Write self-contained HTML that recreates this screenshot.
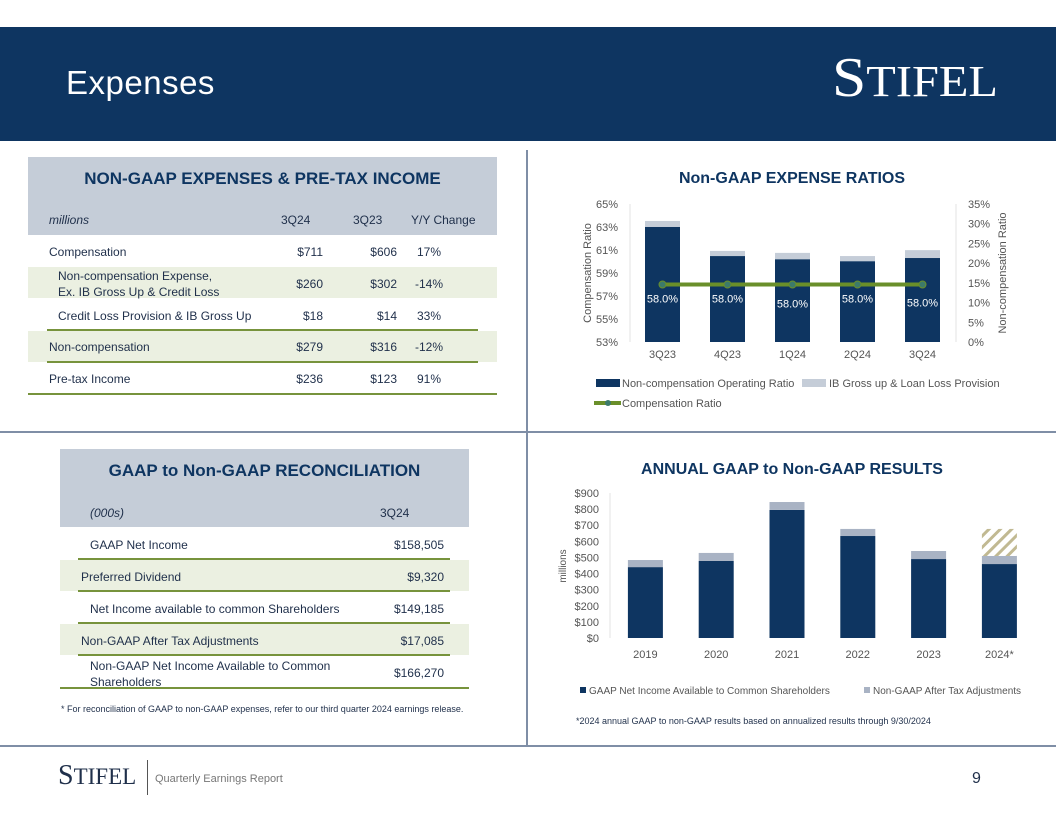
<!DOCTYPE html>
<html><head><meta charset="utf-8"><style>
*{margin:0;padding:0;box-sizing:border-box}
body{width:1056px;height:816px;position:relative;background:#fff;font-family:"Liberation Sans",sans-serif;overflow:hidden;color:#1f2f4a}
.abs{position:absolute}
.t{position:absolute;font-size:12px;color:#1f2f4a;white-space:nowrap}
.r{text-align:right}
</style></head><body>
<div class="abs" style="left:0;top:27px;width:1056px;height:114px;background:#0e3561"></div>
<div class="abs" style="left:66px;top:64px;font-size:33px;color:#fff;letter-spacing:0.5px">Expenses</div>
<div class="abs" style="left:832px;top:46px;font-family:'Liberation Serif',serif;font-size:56px;color:#fff;transform:scaleX(1.1);transform-origin:left top">S<span style="font-size:44px">TIFEL</span></div>

<div class="abs" style="left:526px;top:150px;width:2px;height:596px;background:#7f8ea6"></div>
<div class="abs" style="left:0;top:431px;width:1056px;height:2px;background:#7f8ea6"></div>
<div class="abs" style="left:0;top:745px;width:1056px;height:2px;background:#7f8ea6"></div>

<!-- Table 1 -->
<div>
<div class="abs" style="left:28px;top:157px;width:469px;height:78px;background:#c5cdd8"></div>
<div class="t" style="left:28px;width:469px;top:169px;text-align:center;font-size:17px;font-weight:bold;color:#0e3561">NON-GAAP EXPENSES &amp; PRE-TAX INCOME</div>
<div class="t" style="left:49px;top:213px;font-style:italic">millions</div>
<div class="t" style="left:281px;top:213px">3Q24</div>
<div class="t" style="left:353px;top:213px">3Q23</div>
<div class="t" style="left:411px;top:213px">Y/Y Change</div>
<div class="abs" style="left:28px;top:267px;width:469px;height:31px;background:#ebf0e1"></div>
<div class="abs" style="left:28px;top:331px;width:469px;height:31px;background:#ebf0e1"></div>
<div class="abs" style="left:47px;top:329px;width:431px;height:2px;background:#77933c"></div>
<div class="abs" style="left:47px;top:361px;width:431px;height:2px;background:#77933c"></div>
<div class="abs" style="left:28px;top:393px;width:469px;height:2px;background:#77933c"></div>
<div class="t" style="left:49px;top:245px">Compensation</div>
<div class="t r" style="left:270px;width:53px;top:245px">$711</div>
<div class="t r" style="left:345px;width:52px;top:245px">$606</div>
<div class="t" style="left:417px;top:245px">17%</div>
<div class="t" style="left:58px;top:268px;line-height:16px">Non-compensation Expense,<br>Ex. IB Gross Up &amp; Credit Loss</div>
<div class="t r" style="left:270px;width:53px;top:277px">$260</div>
<div class="t r" style="left:345px;width:52px;top:277px">$302</div>
<div class="t" style="left:415px;top:277px">-14%</div>
<div class="t" style="left:58px;top:309px">Credit Loss Provision &amp; IB Gross Up</div>
<div class="t r" style="left:270px;width:53px;top:309px">$18</div>
<div class="t r" style="left:345px;width:52px;top:309px">$14</div>
<div class="t" style="left:417px;top:309px">33%</div>
<div class="t" style="left:49px;top:340px">Non-compensation</div>
<div class="t r" style="left:270px;width:53px;top:340px">$279</div>
<div class="t r" style="left:345px;width:52px;top:340px">$316</div>
<div class="t" style="left:415px;top:340px">-12%</div>
<div class="t" style="left:49px;top:372px">Pre-tax Income</div>
<div class="t r" style="left:270px;width:53px;top:372px">$236</div>
<div class="t r" style="left:345px;width:52px;top:372px">$123</div>
<div class="t" style="left:417px;top:372px">91%</div>
</div>

<!-- Table 2 -->
<div>
<div class="abs" style="left:60px;top:449px;width:409px;height:78px;background:#c5cdd8"></div>
<div class="t" style="left:60px;width:409px;top:461px;text-align:center;font-size:17px;font-weight:bold;color:#0e3561">GAAP to Non-GAAP RECONCILIATION</div>
<div class="t" style="left:90px;top:506px;font-style:italic">(000s)</div>
<div class="t" style="left:380px;top:506px">3Q24</div>
<div class="abs" style="left:60px;top:560px;width:409px;height:31px;background:#ebf0e1"></div>
<div class="abs" style="left:60px;top:624px;width:409px;height:31px;background:#ebf0e1"></div>
<div class="abs" style="left:78px;top:558px;width:372px;height:2px;background:#77933c"></div>
<div class="abs" style="left:78px;top:590px;width:372px;height:2px;background:#77933c"></div>
<div class="abs" style="left:78px;top:622px;width:372px;height:2px;background:#77933c"></div>
<div class="abs" style="left:78px;top:654px;width:372px;height:2px;background:#77933c"></div>
<div class="abs" style="left:60px;top:687px;width:409px;height:2px;background:#77933c"></div>
<div class="t" style="left:90px;top:538px">GAAP Net Income</div>
<div class="t r" style="left:360px;width:84px;top:538px">$158,505</div>
<div class="t" style="left:81px;top:570px">Preferred Dividend</div>
<div class="t r" style="left:360px;width:84px;top:570px">$9,320</div>
<div class="t" style="left:90px;top:602px">Net Income available to common Shareholders</div>
<div class="t r" style="left:360px;width:84px;top:602px">$149,185</div>
<div class="t" style="left:81px;top:634px">Non-GAAP After Tax Adjustments</div>
<div class="t r" style="left:360px;width:84px;top:634px">$17,085</div>
<div class="t" style="left:90px;top:658px;line-height:16px">Non-GAAP Net Income Available to Common<br>Shareholders</div>
<div class="t r" style="left:360px;width:84px;top:666px">$166,270</div>
<div class="t" style="left:61px;top:704px;font-size:9px">* For reconciliation of GAAP to non-GAAP expenses, refer to our third quarter 2024 earnings release.</div>
</div>

<svg class="abs" style="left:0;top:0" width="1056" height="816" id="charts">
<defs><pattern id="hatch" patternUnits="userSpaceOnUse" width="8" height="8" patternTransform="rotate(45)"><rect width="8" height="8" fill="#fff"/><rect width="3" height="8" fill="#c1b992"/></pattern></defs>
<g id="c1"></g><g id="c2"></g>
</svg>

<div class="abs" style="left:58px;top:760px;font-family:'Liberation Serif',serif;font-size:28px;color:#1f2f4a">S<span style="font-size:23px">TIFEL</span></div>
<div class="abs" style="left:147px;top:760px;width:1px;height:35px;background:#555"></div>
<div class="t" style="left:155px;top:773px;font-size:11px;color:#777">Quarterly Earnings Report</div>
<div class="t" style="left:972px;top:770px;font-size:16px">9</div>

<script>
// Chart 1 data
const qCats = ['3Q23','4Q23','1Q24','2Q24','3Q24'];
const nonCompOp = [29.2, 21.8, 21.0, 20.5, 21.3];
const ibGross = [1.5, 1.3, 1.6, 1.3, 2.0];
const compRatio = [58.0, 58.0, 58.0, 58.0, 58.0];
const leftTicks = [53,55,57,59,61,63,65];
const rightTicks = [0,5,10,15,20,25,30,35];
// Chart 2 data
const years = ['2019','2020','2021','2022','2023','2024*'];
const gaapNI = [440, 478, 795, 633, 490, 459];
const adj = [44, 50, 49, 44, 50, 50];
const hatchTop = [0,0,0,0,0,677];
const dollarTicks = [0,100,200,300,400,500,600,700,800,900];

const NS='http://www.w3.org/2000/svg';
function mk(p,tag,a,txt){const e=document.createElementNS(NS,tag);for(const k in a)e.setAttribute(k,a[k]);if(txt!==undefined)e.textContent=txt;p.appendChild(e);return e;}
const F='Liberation Sans, sans-serif';

// Chart 1
(function(){
const g=document.getElementById('c1');
const x0=630,bw=65,top=204,bot=342;
const yL=v=>bot-(v-53)/12*(bot-top);
const yR=v=>bot-v/35*(bot-top);
const t=mk(g,'text',{x:792,y:183,'text-anchor':'middle','font-size':16,'font-weight':'bold',fill:'#0e3561','font-family':F},'Non-GAAP EXPENSE RATIOS');

mk(g,'line',{x1:630,y1:top,x2:630,y2:bot,stroke:'#e3e3e3'});
mk(g,'line',{x1:956,y1:top,x2:956,y2:bot,stroke:'#e3e3e3'});
leftTicks.forEach(v=>{const e=mk(g,'text',{x:618,y:yL(v)+4,'text-anchor':'end','font-size':11,fill:'#555','font-family':F},v+'%');});
rightTicks.forEach(v=>{const e=mk(g,'text',{x:968,y:yR(v)+4,'font-size':11,fill:'#555','font-family':F},v+'%');});
let e=mk(g,'text',{transform:'translate(591,273) rotate(-90)','text-anchor':'middle','font-size':11,fill:'#555','font-family':F},'Compensation Ratio');

e=mk(g,'text',{transform:'translate(1006,273) rotate(-90)','text-anchor':'middle','font-size':11,fill:'#555','font-family':F},'Non-compensation Ratio');

qCats.forEach((c,i)=>{
 const cx=x0+bw*(i+0.5);
 const yd=yR(nonCompOp[i]),yl=yR(nonCompOp[i]+ibGross[i]);
 let b=mk(g,'rect',{x:cx-17.5,y:yd,width:35,height:bot-yd,fill:'#0e3561'});
 
 b=mk(g,'rect',{x:cx-17.5,y:yl,width:35,height:yd-yl,fill:'#c5cdd8'});
 
 const l=mk(g,'text',{x:cx,y:358,'text-anchor':'middle','font-size':11,fill:'#555','font-family':F},c);
 
});
const pts=compRatio.map((v,i)=>[x0+bw*(i+0.5),yL(v)]);
let ln=mk(g,'polyline',{points:pts.map(p=>p.join(',')).join(' '),fill:'none',stroke:'#6a8f2a','stroke-width':4});

const off=[14,14,19,14,18];
pts.forEach((p,i)=>{
 const d=mk(g,'circle',{cx:p[0],cy:p[1],r:3.5,fill:'#3c7a6a',stroke:'#6a8f2a'});
 
 const l=mk(g,'text',{x:p[0],y:p[1]+off[i]+4,'text-anchor':'middle','font-size':11,fill:'#fff','font-family':F},compRatio[i].toFixed(1)+'%');
 
});
// legend
let r=mk(g,'rect',{x:596,y:379,width:24,height:8,fill:'#0e3561'});
mk(g,'text',{x:622,y:387,'font-size':11,fill:'#555','font-family':F},'Non-compensation Operating Ratio');
r=mk(g,'rect',{x:802,y:379,width:24,height:8,fill:'#c5cdd8'});
mk(g,'text',{x:829,y:387,'font-size':11,fill:'#555','font-family':F},'IB Gross up & Loan Loss Provision');
r=mk(g,'line',{x1:594,y1:403,x2:621,y2:403,stroke:'#6a8f2a','stroke-width':4});
mk(g,'circle',{cx:608,cy:403,r:3,fill:'#3c7a6a'});
mk(g,'text',{x:622,y:407,'font-size':11,fill:'#555','font-family':F},'Compensation Ratio');
})();

// Chart 2
(function(){
const g=document.getElementById('c2');
const x0=610,bw=70.8,top=493,bot=638;
const y=v=>bot-v/900*(bot-top);
let e=mk(g,'text',{x:792,y:474,'text-anchor':'middle','font-size':16,'font-weight':'bold',fill:'#0e3561','font-family':F},'ANNUAL GAAP to Non-GAAP RESULTS');

mk(g,'line',{x1:610,y1:top,x2:610,y2:bot,stroke:'#e3e3e3'});
dollarTicks.forEach(v=>{const t=mk(g,'text',{x:599,y:y(v)+4,'text-anchor':'end','font-size':11,fill:'#555','font-family':F},'$'+v);});
e=mk(g,'text',{transform:'translate(566,566) rotate(-90)','text-anchor':'middle','font-size':10,fill:'#555','font-family':F},'millions');

years.forEach((c,i)=>{
 const cx=x0+bw*(i+0.5);
 const yd=y(gaapNI[i]),yl=y(gaapNI[i]+adj[i]);
 if(hatchTop[i]>0){const h=mk(g,'rect',{x:cx-17.5,y:y(hatchTop[i]),width:35,height:yl-y(hatchTop[i]),fill:'url(#hatch)'});}
 let b=mk(g,'rect',{x:cx-17.5,y:yd,width:35,height:bot-yd,fill:'#0e3561'});
 
 b=mk(g,'rect',{x:cx-17.5,y:yl,width:35,height:yd-yl,fill:'#a9b3c4'});
 
 const l=mk(g,'text',{x:cx,y:658,'text-anchor':'middle','font-size':11,fill:'#555','font-family':F},c);
 
});
let r=mk(g,'rect',{x:580,y:687,width:6,height:6,fill:'#0e3561'});
mk(g,'text',{x:589,y:694,'font-size':10,fill:'#555','font-family':F},'GAAP Net Income Available to Common Shareholders');
r=mk(g,'rect',{x:864,y:687,width:6,height:6,fill:'#a9b3c4'});
mk(g,'text',{x:873,y:694,'font-size':10,fill:'#555','font-family':F},'Non-GAAP After Tax Adjustments');
mk(g,'text',{x:576,y:724,'font-size':9,fill:'#1f2f4a','font-family':F},'*2024 annual GAAP to non-GAAP results based on annualized results through 9/30/2024');
})();
</script>
</body></html>
